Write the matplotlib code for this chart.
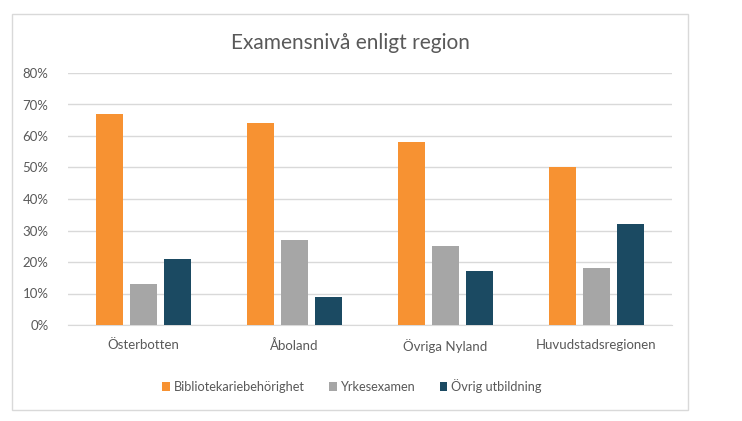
import numpy as np
import matplotlib.pyplot as plt
from matplotlib.patches import Rectangle

plt.rcParams['font.family'] = ['Lato', 'DejaVu Sans']

regions = ['Österbotten', 'Åboland', 'Övriga Nyland', 'Huvudstadsregionen']
series = ['Bibliotekariebehörighet', 'Yrkesexamen', 'Övrig utbildning']
biblio = [67, 64, 58, 50]
yrke = [13, 27, 25, 18]
ovrig = [21, 9, 17, 32]
colors = ['#F79232', '#A6A6A6', '#1B4A62']

W, H = 742, 421
fig = plt.figure(figsize=(W / 100, H / 100), dpi=100)

# outer chart frame
fig.patches.append(Rectangle((12 / W, 1 - 410 / H), (688 - 12) / W, (410 - 14) / H,
                             transform=fig.transFigure, fill=False,
                             edgecolor='#D9D9D9', linewidth=1))

ax = fig.add_axes([68 / W, (H - 325) / H, (672 - 68) / W, (325 - 73) / H])

x = np.arange(len(regions))
bw = 0.18
offs = [-0.223, 0, 0.223]
for vals, off, c, lab in zip([biblio, yrke, ovrig], offs, colors, series):
    ax.bar(x + off, vals, width=bw, color=c, label=lab, zorder=3)

ax.set_xlim(-0.5, len(regions) - 0.5)
ax.set_ylim(0, 80)
ax.set_yticks(range(0, 81, 10))
ax.set_yticklabels([f'{v}%' for v in range(0, 81, 10)])
ax.set_xticks(x)
ax.set_xticklabels(regions)
ax.grid(axis='y', color='#D9D9D9', linewidth=1, zorder=0)
for s in ['top', 'right', 'left']:
    ax.spines[s].set_visible(False)
ax.spines['bottom'].set_color('#D9D9D9')
ax.tick_params(axis='both', length=0, labelsize=9.5, colors='#595959')
ax.tick_params(axis='y', pad=14)
ax.tick_params(axis='x', pad=10)

fig.text(350 / W, 1 - 43 / H, 'Examensnivå enligt region', ha='center', va='center',
         fontsize=15, color='#595959')

ax.legend(loc='center', bbox_to_anchor=(352 / W, 1 - 386 / H), bbox_transform=fig.transFigure,
          ncol=3, frameon=False, fontsize=9.2, handlelength=0.6, handleheight=0.6,
          handletextpad=0.3, columnspacing=1.9, labelcolor='#595959')

fig.savefig('out.png', dpi=100, facecolor='white')
